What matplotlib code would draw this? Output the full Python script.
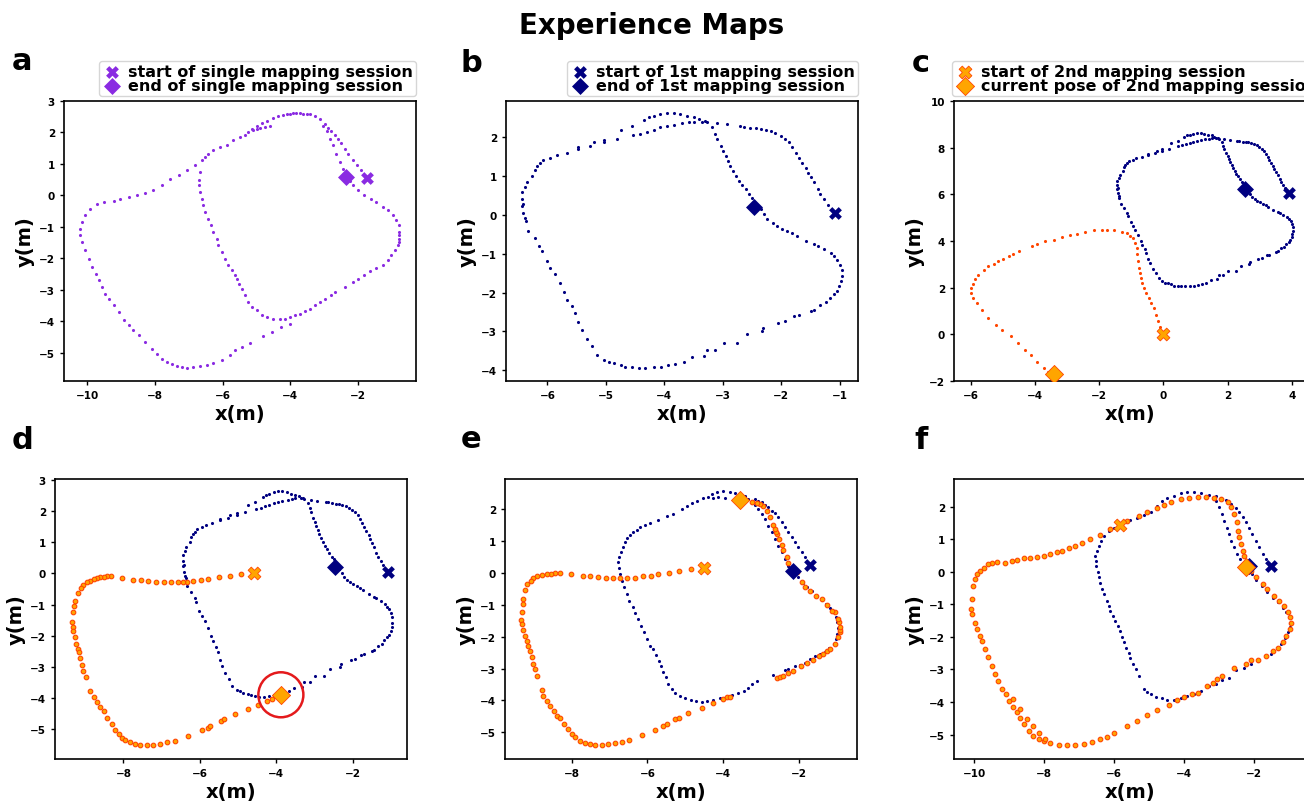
import numpy as np
import matplotlib
matplotlib.use("Agg")
import matplotlib.pyplot as plt

# ---------------------------------------------------------------- data
# panel a: single mapping session (one frame)
A_START = (-1.74, 0.56)
A_END = (-2.35, 0.57)
A_NW = [(-1.90, 0.80), (-2.03, 0.96), (-2.15, 1.12), (-2.30, 1.33), (-2.39, 1.49), (-2.49, 1.65),
        (-2.59, 1.80), (-2.69, 1.91), (-2.79, 2.04), (-2.89, 2.14), (-2.98, 2.28)]
A_INNER_UP = [(-2.44, 0.85), (-2.54, 1.06), (-2.64, 1.33), (-2.74, 1.59), (-2.84, 1.80), (-2.93, 2.04),
              (-3.03, 2.21)]
A_INNER = [(-3.13, 2.44), (-3.28, 2.52), (-3.42, 2.57), (-3.52, 2.59), (-3.62, 2.60), (-3.72, 2.61),
           (-3.82, 2.62), (-3.92, 2.61), (-4.01, 2.60), (-4.11, 2.58), (-4.21, 2.55), (-4.36, 2.51),
           (-4.50, 2.46), (-4.70, 2.37), (-4.85, 2.31), (-4.99, 2.21), (-5.14, 2.12), (-5.24, 2.02),
           (-5.34, 1.91), (-5.49, 1.84), (-5.68, 1.75), (-5.88, 1.61), (-6.07, 1.54), (-6.27, 1.43),
           (-6.42, 1.33), (-6.52, 1.22), (-6.61, 1.12), (-6.68, 0.75), (-6.71, 0.48), (-6.69, 0.32),
           (-6.66, 0.11), (-6.61, -0.10), (-6.57, -0.31), (-6.52, -0.52), (-6.42, -0.74), (-6.35, -0.95),
           (-6.27, -1.16), (-6.17, -1.37), (-6.12, -1.58), (-6.03, -1.79), (-5.93, -2.01), (-5.83, -2.22),
           (-5.73, -2.38), (-5.63, -2.53), (-5.56, -2.64), (-5.51, -2.80), (-5.44, -2.96), (-5.34, -3.17),
           (-5.24, -3.38), (-5.14, -3.54), (-4.99, -3.65), (-4.85, -3.78), (-4.70, -3.86), (-4.50, -3.91),
           (-4.31, -3.93), (-4.16, -3.91), (-4.01, -3.86), (-3.87, -3.80), (-3.72, -3.75), (-3.57, -3.68),
           (-3.42, -3.59), (-3.28, -3.49), (-3.13, -3.38), (-2.98, -3.28), (-2.79, -3.17), (-2.69, -3.06),
           (-2.39, -2.90), (-2.15, -2.75), (-2.00, -2.66), (-1.81, -2.51), (-1.66, -2.41), (-1.46, -2.30),
           (-1.27, -2.20), (-1.12, -2.06), (-1.02, -1.90), (-0.92, -1.74), (-0.82, -1.58), (-0.79, -1.47),
           (-0.78, -1.37), (-0.78, -1.26), (-0.78, -1.16), (-0.80, -0.95), (-0.87, -0.79), (-0.97, -0.63),
           (-1.12, -0.47), (-1.27, -0.37), (-1.46, -0.21), (-1.61, -0.10), (-1.81, 0.01), (-2.00, 0.16),
           (-2.15, 0.32), (-2.25, 0.45)]
A_HOOK = [(-5.09, 2.08), (-4.99, 2.12), (-4.90, 2.15), (-4.75, 2.16), (-4.60, 2.20)]
A_OUTER = [(-6.81, 0.96), (-7.06, 0.80), (-7.30, 0.64), (-7.55, 0.53), (-7.79, 0.32), (-8.04, 0.16),
           (-8.28, 0.09), (-8.53, 0.01), (-8.77, -0.05), (-9.02, -0.10), (-9.21, -0.17), (-9.51, -0.21),
           (-9.71, -0.26), (-9.90, -0.42), (-10.05, -0.63), (-10.15, -0.84), (-10.20, -1.05), (-10.20, -1.26),
           (-10.15, -1.48), (-10.05, -1.74), (-9.95, -2.01), (-9.85, -2.27), (-9.75, -2.48), (-9.66, -2.69),
           (-9.56, -2.90), (-9.46, -3.12), (-9.36, -3.28), (-9.21, -3.49), (-9.07, -3.70), (-8.92, -3.96),
           (-8.77, -4.12), (-8.63, -4.28), (-8.48, -4.44), (-8.28, -4.65), (-8.09, -4.86), (-7.94, -5.02),
           (-7.79, -5.18), (-7.64, -5.29), (-7.50, -5.34), (-7.35, -5.41), (-7.20, -5.46), (-7.06, -5.48),
           (-6.86, -5.46), (-6.66, -5.42), (-6.47, -5.37), (-6.27, -5.31), (-6.03, -5.23), (-5.78, -5.07),
           (-5.63, -4.92), (-5.44, -4.81), (-5.19, -4.67), (-4.80, -4.47), (-4.55, -4.33), (-4.26, -4.17),
           (-4.01, -4.07)]

# panels b and d: first mapping session
S1_START = (-1.08, 0.05)
S1_END = (-2.47, 0.21)
S1_OUTER = [(-1.21, 0.26), (-1.27, 0.41), (-1.33, 0.53), (-1.38, 0.66), (-1.44, 0.84), (-1.49, 0.97),
            (-1.54, 1.09), (-1.58, 1.22), (-1.64, 1.35), (-1.70, 1.48), (-1.75, 1.61), (-1.81, 1.74),
            (-1.87, 1.87), (-1.93, 1.96), (-2.01, 2.04), (-2.10, 2.11), (-2.18, 2.16), (-2.27, 2.19),
            (-2.35, 2.22), (-2.44, 2.24), (-2.53, 2.25), (-2.64, 2.28), (-2.71, 2.30), (-2.93, 2.34),
            (-3.10, 2.37), (-3.27, 2.39), (-3.35, 2.41), (-3.50, 2.41), (-3.58, 2.39), (-3.70, 2.36),
            (-3.84, 2.32), (-3.95, 2.30), (-4.07, 2.26), (-4.18, 2.19), (-4.30, 2.15), (-4.41, 2.10),
            (-4.54, 2.06), (-4.55, 2.30), (-4.75, 2.19), (-4.81, 1.96), (-5.04, 1.87), (-5.04, 1.94),
            (-5.21, 1.87), (-5.27, 1.78), (-5.47, 1.74), (-5.47, 1.70), (-5.67, 1.61), (-5.84, 1.54),
            (-5.95, 1.48), (-6.07, 1.42), (-6.13, 1.34), (-6.18, 1.25), (-6.22, 1.16), (-6.27, 1.01),
            (-6.35, 0.84), (-6.38, 0.71), (-6.44, 0.58), (-6.44, 0.41), (-6.41, 0.28), (-6.44, 0.23),
            (-6.41, 0.06), (-6.38, -0.07), (-6.37, -0.16), (-6.33, -0.41), (-6.22, -0.60), (-6.14, -0.80),
            (-6.10, -0.93), (-6.01, -1.19), (-5.95, -1.36), (-5.87, -1.53), (-5.78, -1.75), (-5.71, -1.99),
            (-5.66, -2.18), (-5.58, -2.35), (-5.53, -2.53), (-5.47, -2.77), (-5.41, -2.96), (-5.33, -3.20),
            (-5.24, -3.39), (-5.15, -3.60), (-5.04, -3.73), (-4.95, -3.78), (-4.87, -3.82), (-4.75, -3.86),
            (-4.67, -3.91), (-4.55, -3.93), (-4.44, -3.95), (-4.33, -3.95), (-4.18, -3.92), (-4.06, -3.91),
            (-3.93, -3.88), (-3.81, -3.84), (-3.67, -3.78), (-3.53, -3.66), (-3.33, -3.63), (-3.27, -3.47),
            (-3.13, -3.47), (-2.98, -3.30), (-2.75, -3.30), (-2.59, -3.07), (-2.33, -3.00), (-2.31, -2.91),
            (-2.05, -2.78), (-1.93, -2.74), (-1.78, -2.61), (-1.70, -2.59), (-1.50, -2.47), (-1.44, -2.44),
            (-1.33, -2.31), (-1.24, -2.25), (-1.17, -2.14), (-1.10, -2.05), (-1.05, -1.97), (-1.01, -1.84),
            (-0.98, -1.71), (-0.97, -1.58), (-0.97, -1.41), (-0.99, -1.28), (-1.04, -1.15), (-1.10, -1.06),
            (-1.15, -0.97), (-1.27, -0.89), (-1.38, -0.80), (-1.44, -0.76), (-1.58, -0.66), (-1.73, -0.54),
            (-1.81, -0.47), (-1.90, -0.41), (-1.98, -0.35), (-2.07, -0.28), (-2.15, -0.20), (-2.24, -0.11),
            (-2.29, 0.02), (-2.35, 0.15)]
S1_INNER = [(-4.35, 2.46), (-4.27, 2.52), (-4.18, 2.56), (-4.07, 2.60), (-3.95, 2.63), (-3.84, 2.63),
            (-3.73, 2.60), (-3.61, 2.56), (-3.50, 2.53), (-3.41, 2.47), (-3.30, 2.43), (-3.18, 2.26),
            (-3.13, 2.09), (-3.10, 1.96), (-3.04, 1.78), (-2.99, 1.66), (-2.95, 1.53), (-2.91, 1.40),
            (-2.87, 1.27), (-2.82, 1.14), (-2.78, 1.01), (-2.73, 0.88), (-2.67, 0.78), (-2.61, 0.66),
            (-2.55, 0.53), (-2.50, 0.45), (-2.47, 0.32)]
C_SHIFT = (5.0, 6.0)  # session 1 origin in the frame of panel c

# panel c: second mapping session, first steps
C2_START = (0.0, 0.0)
C2_POSE = (-3.42, -1.71)
C2_PATH = [(-0.09, 0.31), (-0.16, 0.55), (-0.22, 0.83), (-0.30, 1.12), (-0.38, 1.34), (-0.45, 1.55),
           (-0.53, 1.77), (-0.61, 1.99), (-0.66, 2.20), (-0.71, 2.42), (-0.73, 2.63), (-0.77, 2.85),
           (-0.80, 3.13), (-0.82, 3.42), (-0.82, 3.71), (-0.87, 3.92), (-0.94, 4.11), (-1.03, 4.21),
           (-1.13, 4.32), (-1.29, 4.39), (-1.55, 4.45), (-1.75, 4.49), (-1.91, 4.49), (-2.17, 4.47),
           (-2.43, 4.38), (-2.69, 4.28), (-2.90, 4.24), (-3.16, 4.16), (-3.42, 4.06), (-3.68, 3.99),
           (-3.92, 3.88), (-4.10, 3.78), (-4.51, 3.56), (-4.67, 3.45), (-4.82, 3.35), (-4.98, 3.23),
           (-5.14, 3.13), (-5.29, 3.02), (-5.45, 2.92), (-5.60, 2.77), (-5.76, 2.56), (-5.86, 2.37),
           (-5.94, 2.17), (-5.99, 1.99), (-5.98, 1.77), (-5.92, 1.56), (-5.81, 1.34), (-5.66, 1.05),
           (-5.45, 0.72), (-5.21, 0.41), (-5.03, 0.19), (-4.75, -0.09), (-4.54, -0.38), (-4.30, -0.67),
           (-4.13, -0.88), (-3.94, -1.17), (-3.73, -1.46), (-3.58, -1.60)]

# panel d: second session after loop closure
D2_START = (-4.58, 0.02)
D2_POSE = (-3.88, -3.89)
D2_PATH = [(-4.93, -0.03), (-5.21, -0.07), (-5.50, -0.12), (-5.78, -0.18), (-5.97, -0.21), (-6.17, -0.24),
           (-6.33, -0.28), (-6.45, -0.28), (-6.56, -0.28), (-6.76, -0.28), (-6.95, -0.26), (-7.16, -0.26),
           (-7.35, -0.24), (-7.55, -0.21), (-7.74, -0.20), (-8.03, -0.13), (-8.32, -0.09), (-8.44, -0.09),
           (-8.52, -0.10), (-8.61, -0.11), (-8.70, -0.14), (-8.78, -0.18), (-8.87, -0.23), (-8.96, -0.28),
           (-9.05, -0.36), (-9.11, -0.47), (-9.19, -0.63), (-9.26, -0.87), (-9.29, -1.03), (-9.33, -1.25),
           (-9.35, -1.55), (-9.33, -1.73), (-9.31, -1.86), (-9.26, -2.05), (-9.24, -2.26), (-9.20, -2.42),
           (-9.16, -2.53), (-9.13, -2.72), (-9.09, -2.94), (-9.05, -3.12), (-8.98, -3.31), (-8.87, -3.76),
           (-8.78, -3.95), (-8.70, -4.13), (-8.61, -4.29), (-8.52, -4.40), (-8.44, -4.65), (-8.31, -4.83),
           (-8.22, -5.01), (-8.11, -5.15), (-8.04, -5.26), (-7.96, -5.34), (-7.83, -5.42), (-7.69, -5.47),
           (-7.56, -5.50), (-7.39, -5.50), (-7.22, -5.49), (-7.04, -5.47), (-6.87, -5.42), (-6.65, -5.36),
           (-6.30, -5.20), (-5.95, -5.02), (-5.78, -4.94), (-5.73, -4.90), (-5.45, -4.72), (-5.38, -4.67),
           (-5.08, -4.52), (-4.73, -4.35), (-4.47, -4.22), (-4.25, -4.08), (-4.12, -4.03), (-3.99, -3.94)]

# panel e: both sessions, re-optimised
E1_START = (-1.71, 0.26)
E1_END = (-2.17, 0.07)
E1_PATH = [(-1.84, 0.49), (-1.93, 0.65), (-2.02, 0.81), (-2.11, 0.96), (-2.19, 1.12), (-2.28, 1.28),
           (-2.37, 1.43), (-2.46, 1.59), (-2.55, 1.75), (-2.63, 1.87), (-2.72, 1.96), (-2.81, 2.06),
           (-2.90, 2.14), (-2.99, 2.22), (-3.07, 2.27), (-3.16, 2.32),
           (-2.28, 0.23), (-2.37, 0.44), (-2.46, 0.65), (-2.55, 0.86), (-2.63, 1.07), (-2.72, 1.28),
           (-2.81, 1.49), (-2.90, 1.70), (-2.99, 1.85), (-3.07, 2.01), (-3.16, 2.14), (-3.25, 2.24),
           (-3.34, 2.32), (-3.43, 2.41), (-3.56, 2.47), (-3.69, 2.51), (-3.82, 2.54), (-4.00, 2.57),
           (-4.17, 2.53), (-4.31, 2.47), (-4.39, 2.40), (-4.53, 2.35), (-4.70, 2.27), (-4.83, 2.20),
           (-4.96, 2.09), (-4.26, 2.36), (-4.13, 2.37), (-3.95, 2.36),
           (-5.10, 2.01), (-5.32, 1.85), (-5.49, 1.78), (-5.71, 1.67), (-5.93, 1.56), (-6.06, 1.51),
           (-6.20, 1.43), (-6.28, 1.36), (-6.37, 1.28), (-6.46, 1.19), (-6.53, 1.10), (-6.59, 0.96),
           (-6.65, 0.81), (-6.71, 0.65), (-6.75, 0.49), (-6.77, 0.34), (-6.75, 0.15), (-6.72, -0.03),
           (-6.68, -0.24), (-6.62, -0.45), (-6.55, -0.66), (-6.48, -0.87), (-6.39, -1.08), (-6.33, -1.25),
           (-6.24, -1.44), (-6.18, -1.65), (-6.09, -1.86), (-6.02, -2.07), (-5.93, -2.28), (-5.86, -2.38),
           (-5.77, -2.59), (-5.70, -2.75), (-5.65, -2.91), (-5.58, -3.12), (-5.51, -3.27), (-5.45, -3.48),
           (-5.36, -3.64), (-5.27, -3.77), (-5.14, -3.85), (-5.01, -3.93), (-4.86, -3.99), (-4.72, -4.03),
           (-4.57, -4.04), (-4.44, -4.03), (-4.26, -3.99), (-4.09, -3.93), (-3.91, -3.88), (-3.78, -3.83),
           (-3.62, -3.78), (-3.45, -3.72), (-3.34, -3.62), (-3.23, -3.48), (-3.12, -3.40), (-2.68, -3.20),
           (-2.37, -3.06), (-2.28, -3.01), (-2.11, -2.91), (-1.97, -2.89), (-1.84, -2.82), (-1.71, -2.70),
           (-1.58, -2.62), (-1.45, -2.54), (-1.31, -2.47), (-1.20, -2.36), (-1.09, -2.23), (-1.02, -2.07),
           (-0.99, -1.91), (-0.96, -1.74), (-0.99, -1.55), (-1.03, -1.39), (-1.09, -1.23), (-1.18, -1.11),
           (-1.29, -0.97), (-1.40, -0.85), (-1.53, -0.71), (-1.67, -0.58), (-1.80, -0.45), (-1.90, -0.31),
           (-2.02, -0.13)]
E2_START = (-4.50, 0.16)
E2_POSE = (-3.57, 2.29)
E2_PATH = [(-4.86, 0.11), (-5.16, 0.05), (-5.44, 0.00), (-5.71, -0.04), (-5.91, -0.08), (-6.11, -0.11),
           (-6.33, -0.16), (-6.53, -0.17), (-6.72, -0.17), (-6.90, -0.17), (-7.10, -0.15), (-7.30, -0.13),
           (-7.52, -0.11), (-7.71, -0.09), (-8.02, -0.04), (-8.31, -0.01), (-8.44, -0.01), (-8.55, -0.02),
           (-8.66, -0.04), (-8.79, -0.06), (-8.92, -0.11), (-9.01, -0.17), (-9.08, -0.24), (-9.17, -0.34),
           (-9.23, -0.55), (-9.28, -0.81), (-9.29, -0.97), (-9.32, -1.21), (-9.34, -1.49), (-9.32, -1.60),
           (-9.28, -1.78), (-9.23, -1.97), (-9.19, -2.15), (-9.16, -2.28), (-9.10, -2.46), (-9.06, -2.65),
           (-9.01, -2.86), (-8.97, -3.03), (-8.92, -3.24), (-8.79, -3.67), (-8.75, -3.85), (-8.66, -4.01),
           (-8.57, -4.18), (-8.48, -4.32), (-8.40, -4.48), (-8.31, -4.56), (-8.20, -4.74), (-8.11, -4.90),
           (-8.00, -5.07), (-7.91, -5.16), (-7.78, -5.26), (-7.65, -5.33), (-7.52, -5.38), (-7.38, -5.40),
           (-7.21, -5.40), (-7.03, -5.38), (-6.86, -5.35), (-6.68, -5.30), (-6.50, -5.24), (-6.15, -5.08),
           (-5.80, -4.92), (-5.60, -4.79), (-5.49, -4.74), (-5.27, -4.58), (-5.18, -4.54), (-4.92, -4.39),
           (-4.55, -4.24), (-4.28, -4.09), (-4.00, -3.95), (-3.89, -3.90), (-3.82, -3.88),
           (-2.57, -3.31), (-2.50, -3.27), (-2.41, -3.22), (-2.28, -3.15), (-2.17, -3.09), (-1.95, -2.93),
           (-1.80, -2.83), (-1.62, -2.72), (-1.46, -2.61), (-1.38, -2.54), (-1.27, -2.45), (-1.18, -2.38),
           (-1.05, -2.23), (-0.96, -2.02), (-0.92, -1.86), (-0.91, -1.78), (-0.92, -1.70), (-0.94, -1.55),
           (-0.96, -1.44), (-1.05, -1.23), (-1.14, -1.18), (-1.27, -0.99), (-1.40, -0.81), (-1.55, -0.73),
           (-1.71, -0.58), (-1.84, -0.45), (-1.93, -0.29), (-2.06, 0.02), (-2.19, 0.16), (-2.28, 0.32),
           (-2.33, 0.49), (-2.41, 0.72), (-2.46, 0.88), (-2.52, 1.07), (-2.57, 1.23), (-2.60, 1.30),
           (-2.63, 1.38), (-2.70, 1.51), (-2.77, 1.75), (-2.85, 1.96), (-2.94, 2.09), (-3.03, 2.17),
           (-3.12, 2.20), (-3.25, 2.24)]

# panel f: second session completes the loop
F1_START = (-1.52, 0.17)
F1_END = (-2.15, 0.18)
F1_PATH = [(-1.66, 0.39), (-1.76, 0.54), (-1.85, 0.75), (-1.95, 0.95), (-2.05, 1.16), (-2.14, 1.33),
           (-2.24, 1.52), (-2.33, 1.67), (-2.43, 1.83), (-2.52, 1.95), (-2.67, 2.08), (-2.81, 2.20),
           (-2.95, 2.28), (-3.10, 2.32), (-3.29, 2.36), (-3.53, 2.42), (-3.72, 2.44), (-3.91, 2.46),
           (-4.10, 2.42), (-4.29, 2.34), (-4.48, 2.26), (-4.63, 2.18), (-4.77, 2.03), (-4.96, 1.85),
           (-5.15, 1.74), (-5.34, 1.66), (-5.54, 1.59), (-5.68, 1.55), (-5.87, 1.44), (-6.01, 1.36),
           (-6.16, 1.26), (-6.28, 1.11), (-6.38, 0.95), (-6.44, 0.80), (-6.49, 0.65), (-6.54, 0.49),
           (-6.52, 0.34), (-6.51, 0.19), (-6.47, -0.02), (-6.44, -0.17), (-6.40, -0.33), (-6.35, -0.53),
           (-6.28, -0.69), (-6.20, -0.89), (-6.16, -1.04), (-6.11, -1.20), (-6.04, -1.35), (-5.97, -1.51),
           (-5.90, -1.66), (-5.84, -1.81), (-5.77, -1.99), (-5.73, -2.15), (-5.65, -2.33), (-5.58, -2.48),
           (-5.54, -2.66), (-5.46, -2.84), (-5.39, -2.99), (-5.30, -3.20), (-5.15, -3.59), (-5.06, -3.69),
           (-4.96, -3.76), (-4.82, -3.83), (-4.63, -3.89), (-4.48, -3.93), (-4.29, -3.94), (-4.10, -3.89),
           (-3.91, -3.81), (-3.72, -3.76), (-3.53, -3.66), (-3.29, -3.50), (-3.10, -3.45), (-2.91, -3.33),
           (-2.72, -3.25), (-2.52, -3.01), (-2.28, -2.97), (-2.09, -2.84), (-1.90, -2.74), (-1.52, -2.53),
           (-1.33, -2.36), (-1.23, -2.22), (-1.12, -2.02), (-1.04, -1.86), (-0.99, -1.71), (-0.97, -1.56),
           (-0.99, -1.40), (-1.09, -1.23), (-1.19, -1.10), (-1.33, -0.94), (-1.47, -0.79), (-1.63, -0.61),
           (-1.79, -0.43), (-1.95, -0.24), (-2.07, -0.07),
           (-3.10, 2.18), (-3.00, 1.98), (-2.93, 1.77), (-2.86, 1.57), (-2.78, 1.36), (-2.72, 1.16),
           (-2.65, 0.95), (-2.57, 0.75), (-2.50, 0.54), (-2.40, 0.39), (-2.30, 0.24)]
F2_START = (-5.84, 1.44)
F2_POSE = (-2.22, 0.16)
F2_PATH = [(-6.11, 1.31), (-6.40, 1.13), (-6.68, 1.01), (-6.92, 0.88), (-7.11, 0.80), (-7.30, 0.72),
           (-7.50, 0.65), (-7.64, 0.60), (-7.83, 0.54), (-8.02, 0.49), (-8.21, 0.44), (-8.40, 0.41),
           (-8.59, 0.41), (-8.79, 0.36), (-8.91, 0.34), (-9.12, 0.26), (-9.36, 0.31), (-9.50, 0.27),
           (-9.60, 0.24), (-9.72, 0.13), (-9.84, 0.03), (-9.91, -0.07), (-9.98, -0.22), (-10.03, -0.43),
           (-10.06, -0.84), (-10.08, -1.15), (-10.07, -1.30), (-9.98, -1.56), (-9.91, -1.76), (-9.84, -1.97),
           (-9.79, -2.12), (-9.69, -2.38), (-9.60, -2.63), (-9.50, -2.89), (-9.41, -3.15), (-9.31, -3.35),
           (-9.22, -3.59), (-9.09, -3.76), (-9.00, -3.97), (-8.90, -4.14), (-8.79, -4.32), (-8.69, -4.48),
           (-8.58, -4.68), (-8.45, -4.89), (-8.31, -5.04), (-8.16, -5.14), (-8.02, -5.19), (-7.83, -5.25),
           (-7.59, -5.31), (-7.35, -5.32), (-7.11, -5.31), (-6.87, -5.28), (-6.63, -5.23), (-6.40, -5.14),
           (-6.20, -5.07), (-6.01, -4.96), (-5.63, -4.73), (-5.34, -4.58), (-5.06, -4.41), (-4.77, -4.24),
           (-4.44, -4.10), (-4.20, -3.94), (-4.01, -3.84), (-3.77, -3.76), (-3.62, -3.71), (-3.34, -3.50),
           (-3.19, -3.42), (-3.05, -3.28), (-2.91, -3.20), (-2.57, -2.94), (-2.24, -2.82), (-2.09, -2.71),
           (-1.90, -2.70), (-1.66, -2.60), (-1.47, -2.43), (-1.33, -2.33), (-1.19, -2.15), (-1.09, -1.97),
           (-0.99, -1.76), (-0.95, -1.58), (-0.97, -1.40), (-1.02, -1.25), (-1.14, -1.04), (-1.28, -0.89),
           (-1.42, -0.74), (-1.62, -0.53), (-1.76, -0.38), (-1.95, -0.17), (-2.09, 0.03),
           (-8.88, -3.91), (-8.69, -4.22), (-8.50, -4.53), (-8.31, -4.73), (-8.14, -4.94), (-7.97, -5.14),
           (-2.76, 2.13), (-2.67, 1.98), (-2.57, 1.77), (-2.50, 1.52), (-2.46, 1.26), (-2.43, 1.06),
           (-2.38, 0.85), (-2.33, 0.65), (-2.29, 0.49),
           (-5.63, 1.57), (-5.30, 1.72), (-5.06, 1.83), (-4.77, 1.95), (-4.58, 2.05), (-4.39, 2.15),
           (-4.10, 2.24), (-3.86, 2.27), (-3.62, 2.29), (-3.38, 2.29), (-3.15, 2.27), (-2.95, 2.24)]

# ---------------------------------------------------------------- style
PURPLE = "#8a2be2"
NAVY = "#000080"
ORANGE = "#ffa500"
ORANGERED = "#ff4500"

plt.rcParams["font.family"] = ["DejaVu Sans"]
plt.rcParams["font.weight"] = "bold"
plt.rcParams["axes.labelweight"] = "bold"
plt.rcParams["axes.linewidth"] = 1.2


def xy(*segments):
    arr = np.array([p for seg in segments for p in seg])
    return arr[:, 0], arr[:, 1]


def style(ax, xlim, ylim):
    ax.set_xlim(*xlim)
    ax.set_ylim(*ylim)
    ax.tick_params(labelsize=7.5, width=1, length=3)
    ax.set_xlabel("x(m)", fontsize=14, labelpad=3)
    ax.set_ylabel("y(m)", fontsize=14, labelpad=3)


def add_legend(ax, loc, anchor):
    ax.legend(loc=loc, bbox_to_anchor=anchor, borderaxespad=0, fontsize=11.5,
              handlelength=1.2, handletextpad=0.4, labelspacing=-0.08, borderpad=0.2,
              scatterpoints=1, framealpha=0.8)


def session1(ax, pts, start, end, label=False):
    x, y = pts
    ax.scatter(x, y, s=5, color=NAVY, lw=0, zorder=2)
    ax.scatter(*start, marker="X", s=85, color=NAVY, lw=0, zorder=4,
               label="start of 1st mapping session" if label else None)
    ax.scatter(*end, marker="D", s=75, color=NAVY, lw=0, zorder=4,
               label="end of 1st mapping session" if label else None)


def session2(ax, pts, start, pose, small=False, label=False):
    x, y = pts
    if small:
        ax.scatter(x, y, s=5, color=ORANGERED, lw=0, zorder=3)
    else:
        ax.scatter(x, y, s=11, facecolor=ORANGE, edgecolor=ORANGERED, lw=0.8, zorder=3)
    ax.scatter(*start, marker="X", s=85, facecolor=ORANGE, edgecolor=ORANGERED, lw=0.6, zorder=5,
               label="start of 2nd mapping session" if label else None)
    ax.scatter(*pose, marker="D", s=85, facecolor=ORANGE, edgecolor=ORANGERED, lw=0.6, zorder=5,
               label="current pose of 2nd mapping session" if label else None)


fig = plt.figure(figsize=(13.04, 8.04), dpi=100)
fig.suptitle("Experience Maps", fontsize=20, fontweight="bold", y=0.985)

W, H = 0.2699, 0.3483
ax_a = fig.add_axes([0.0491, 0.5249, W, H])
ax_b = fig.add_axes([0.3880, 0.5249, W, H])
ax_c = fig.add_axes([0.7316, 0.5249, W, H])
ax_d = fig.add_axes([0.0422, 0.0547, W, H])
ax_e = fig.add_axes([0.3873, 0.0547, W, H])
ax_f = fig.add_axes([0.7316, 0.0547, W, H])

# a
ax = ax_a
x, y = xy(A_NW, A_INNER_UP, A_INNER, A_HOOK, A_OUTER)
ax.scatter(x, y, s=5, color=PURPLE, lw=0)
ax.scatter(*A_START, marker="X", s=85, color=PURPLE, lw=0, zorder=4, label="start of single mapping session")
ax.scatter(*A_END, marker="D", s=75, color=PURPLE, lw=0, zorder=4, label="end of single mapping session")
style(ax, (-10.68, -0.29), (-5.89, 3.0))
add_legend(ax, "lower right", (1.0, 1.018))

# b
s1 = xy(S1_OUTER, S1_INNER)
session1(ax_b, s1, S1_START, S1_END, label=True)
style(ax_b, (-6.71, -0.69), (-4.28, 2.94))
add_legend(ax_b, "lower right", (1.0, 1.018))

# c
ax = ax_c
session1(ax, (s1[0] + C_SHIFT[0], s1[1] + C_SHIFT[1]),
         (S1_START[0] + C_SHIFT[0], S1_START[1] + C_SHIFT[1]),
         (S1_END[0] + C_SHIFT[0], S1_END[1] + C_SHIFT[1]))
session2(ax, xy(C2_PATH), C2_START, C2_POSE, small=True, label=True)
style(ax, (-6.52, 4.44), (-2.0, 10.0))
add_legend(ax, "lower left", (-0.005, 1.018))

# d
ax = ax_d
session1(ax, s1, S1_START, S1_END)
session2(ax, xy(D2_PATH), D2_START, D2_POSE)
ax.scatter(*D2_POSE, marker="o", s=1050, facecolor="none", edgecolor="#e41a1c", lw=1.8, zorder=6)
style(ax, (-9.79, -0.58), (-5.95, 3.03))

# e
ax = ax_e
session1(ax, xy(E1_PATH), E1_START, E1_END)
session2(ax, xy(E2_PATH), E2_START, E2_POSE)
style(ax, (-9.76, -0.47), (-5.84, 2.95))

# f
ax = ax_f
session1(ax, xy(F1_PATH), F1_START, F1_END)
session2(ax, xy(F2_PATH), F2_START, F2_POSE)
style(ax, (-10.58, -0.52), (-5.75, 2.85))

for letter, fx, fy in [("a", 0.009, 0.913), ("b", 0.3535, 0.911), ("c", 0.699, 0.911),
                       ("d", 0.009, 0.441), ("e", 0.3530, 0.443), ("f", 0.701, 0.441)]:
    fig.text(fx, fy, letter, fontsize=22, fontweight="bold", va="baseline", ha="left")

fig.savefig("out.png", dpi=100)
